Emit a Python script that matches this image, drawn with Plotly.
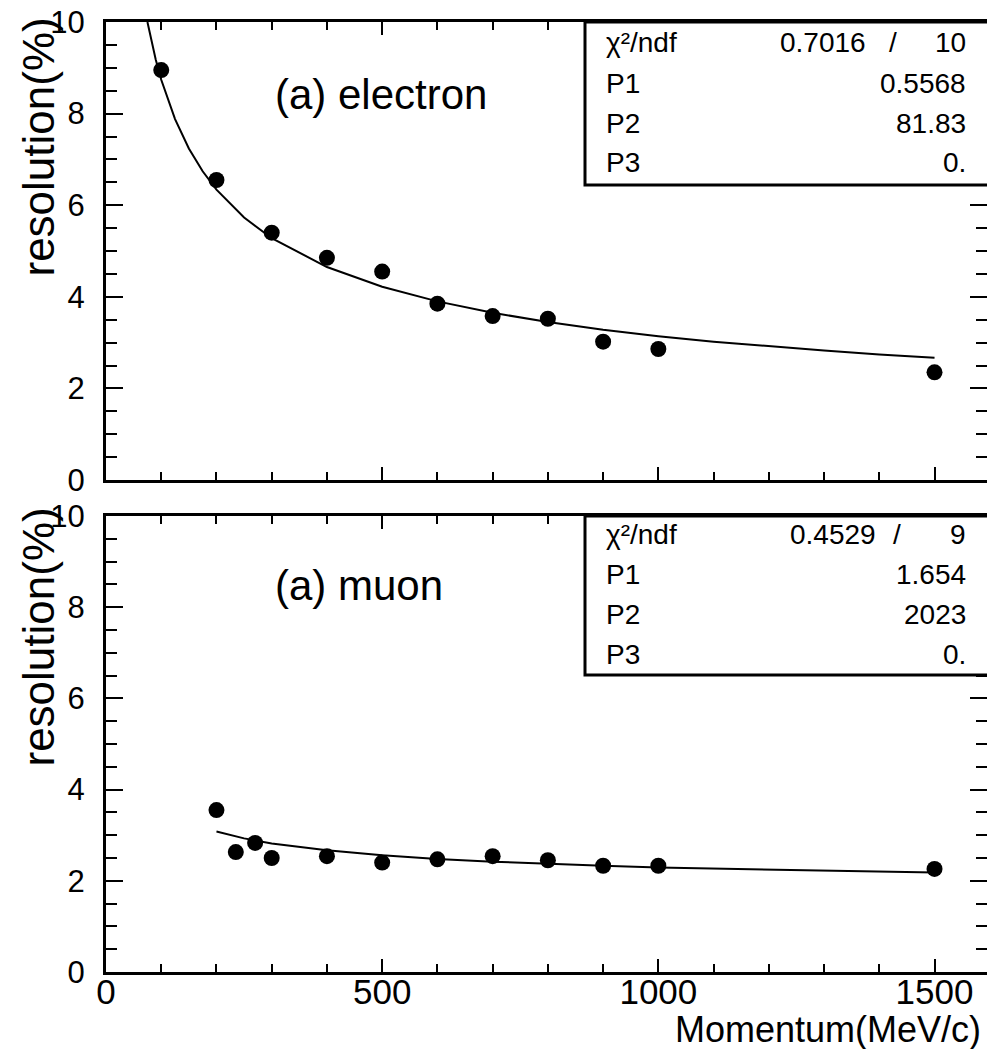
import plotly.graph_objects as go

# ---- data ----
e_p = [100, 200, 300, 400, 500, 600, 700, 800, 900, 1000, 1500]
e_res = [8.95, 6.55, 5.40, 4.85, 4.55, 3.85, 3.58, 3.52, 3.02, 2.86, 2.35]
e_fit_p = [75, 90, 100, 125, 150, 175, 200, 250, 300, 400, 500, 600, 700, 800, 900, 1000, 1100, 1200, 1300, 1400, 1500]
e_fit_r = [10.0, 9.18, 8.74, 7.88, 7.24, 6.74, 6.34, 5.73, 5.28, 4.65, 4.22, 3.90, 3.65, 3.45, 3.28, 3.14, 3.02, 2.92, 2.83, 2.74, 2.67]

m_p = [200, 235, 270, 300, 400, 500, 600, 700, 800, 900, 1000, 1500]
m_res = [3.55, 2.63, 2.83, 2.50, 2.54, 2.40, 2.47, 2.54, 2.45, 2.33, 2.33, 2.26]
m_fit_p = [200, 250, 300, 400, 500, 600, 700, 800, 900, 1000, 1200, 1500]
m_fit_r = [3.08, 2.93, 2.82, 2.67, 2.56, 2.48, 2.42, 2.37, 2.33, 2.29, 2.24, 2.18]

e_stats = [("χ²/ndf", "0.7016", "10"), ("P1", "0.5568", None), ("P2", "81.83", None), ("P3", "0.", None)]
m_stats = [("χ²/ndf", "0.4529", "9"), ("P1", "1.654", None), ("P2", "2023", None), ("P3", "0.", None)]

W, H = 987, 1049
L = 106
FONT = "Liberation Sans"

def px(x):
    return (x - L) / (W - L)

def py(y):
    return 1 - y / H

fig = go.Figure()
fig.add_trace(go.Scatter(x=e_fit_p, y=e_fit_r, mode="lines", line=dict(color="black", width=2),
                         xaxis="x", yaxis="y", showlegend=False))
fig.add_trace(go.Scatter(x=e_p, y=e_res, mode="markers", marker=dict(color="black", size=16),
                         xaxis="x", yaxis="y", showlegend=False))
fig.add_trace(go.Scatter(x=m_fit_p, y=m_fit_r, mode="lines", line=dict(color="black", width=2),
                         xaxis="x2", yaxis="y2", showlegend=False))
fig.add_trace(go.Scatter(x=m_p, y=m_res, mode="markers", marker=dict(color="black", size=16),
                         xaxis="x2", yaxis="y2", showlegend=False))

xcommon = dict(range=[0, 1595], dtick=500, ticks="inside", ticklen=13, tickwidth=2,
               showline=True, linewidth=3, linecolor="black", mirror="ticks", showgrid=False,
               zeroline=False, tickcolor="black", automargin=False, ticklabelstandoff=-13,
               minor=dict(dtick=100, ticks="inside", ticklen=8, tickwidth=2, tickcolor="black"),
               tickfont=dict(family=FONT, size=35, color="black"))
ycommon = dict(range=[0, 10], dtick=2, ticks="inside", ticklen=17, tickwidth=2,
               showline=True, linewidth=3, linecolor="black", mirror="ticks", showgrid=False,
               zeroline=False, tickcolor="black", ticklabelstandoff=12, automargin=False,
               minor=dict(dtick=0.5, ticks="inside", ticklen=11, tickwidth=2, tickcolor="black"),
               tickfont=dict(family=FONT, size=31, color="black"))

fig.update_layout(
    width=W, height=H, margin=dict(l=L, r=0, t=0, b=0, autoexpand=False),
    paper_bgcolor="white", plot_bgcolor="white",
    xaxis=dict(xcommon, domain=[0, 1], anchor="y", showticklabels=False),
    yaxis=dict(ycommon, domain=[py(480), py(22)], anchor="x"),
    xaxis2=dict(xcommon, domain=[0, 1], anchor="y2"),
    yaxis2=dict(ycommon, domain=[py(972), py(516)], anchor="x2"),
)

ann = []
# y titles
for top in (16, 506):
    ann.append(dict(text="resolution(%)", x=px(38), y=py(top), xref="paper", yref="paper",
                    xanchor="center", yanchor="top", textangle=-90, showarrow=False,
                    font=dict(family=FONT, size=44, color="black")))
# x title
ann.append(dict(text="Momentum(MeV/c)", x=px(983), y=py(1029), xref="paper", yref="paper",
                xanchor="right", yanchor="middle", showarrow=False,
                font=dict(family=FONT, size=36, color="black")))
# panel labels
ann.append(dict(text="(a) electron", x=px(273), y=py(94), xref="paper", yref="paper",
                xanchor="left", yanchor="middle", showarrow=False,
                font=dict(family=FONT, size=42, color="black")))
ann.append(dict(text="(a) muon", x=px(273), y=py(585), xref="paper", yref="paper",
                xanchor="left", yanchor="middle", showarrow=False,
                font=dict(family=FONT, size=42, color="black")))

shapes = []
for (top, bot, stats, rows, chi_r, slash_x) in (
        (22, 185, e_stats, [43, 83, 123, 163], 868, 893),
        (516, 675, m_stats, [534, 574, 614, 654], 878, 897)):
    shapes.append(dict(type="rect", xref="paper", yref="paper", x0=px(585), x1=px(995),
                       y0=py(bot), y1=py(top), line=dict(color="black", width=3),
                       fillcolor="white", layer="above"))
    for (lab, val, extra), ry in zip(stats, rows):
        f = dict(family=FONT, size=28, color="black")
        ann.append(dict(text=lab, x=px(604), y=py(ry), xref="paper", yref="paper",
                        xanchor="left", yanchor="middle", showarrow=False, font=f))
        if extra is None:
            ann.append(dict(text=val, x=px(968), y=py(ry), xref="paper", yref="paper",
                            xanchor="right", yanchor="middle", showarrow=False, font=f))
        else:
            ann.append(dict(text=val, x=px(chi_r), y=py(ry), xref="paper", yref="paper",
                            xanchor="right", yanchor="middle", showarrow=False, font=f))
            ann.append(dict(text="/", x=px(slash_x), y=py(ry), xref="paper", yref="paper",
                            xanchor="center", yanchor="middle", showarrow=False, font=f))
            ann.append(dict(text=extra, x=px(968), y=py(ry), xref="paper", yref="paper",
                            xanchor="right", yanchor="middle", showarrow=False, font=f))

fig.update_layout(annotations=ann, shapes=shapes)
fig.write_html("out.html")
